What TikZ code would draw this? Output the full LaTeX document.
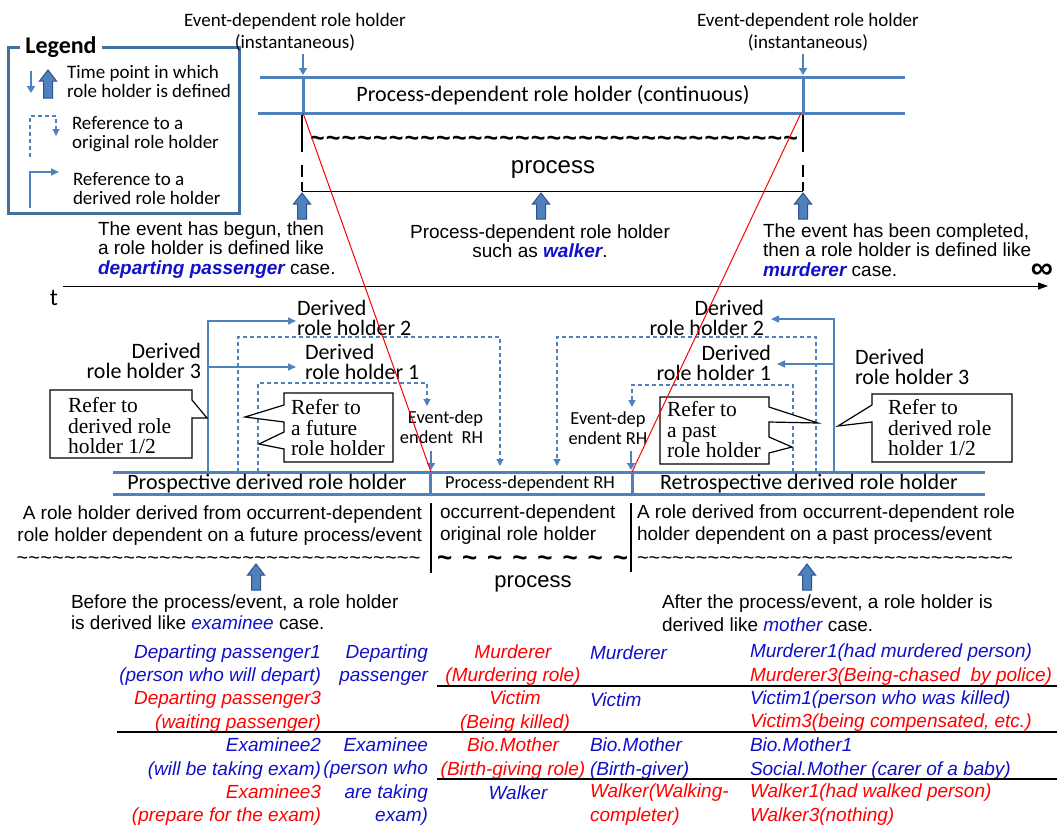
\documentclass[tikz,border=0pt]{standalone}
\usepackage{fontspec}
\setmainfont{Liberation Sans}
\newfontfamily\calf{Carlito}
\newfontfamily\arif{Liberation Sans}
\newfontfamily\timf{Liberation Serif}
\usetikzlibrary{arrows.meta}
\definecolor{lblue}{RGB}{79,129,189}
\definecolor{dblue}{RGB}{65,113,156}
\definecolor{aedge}{RGB}{47,82,143}
\definecolor{tblue}{RGB}{16,16,200}
\definecolor{tred}{RGB}{255,0,0}
\newcount\tildecnt
\newcommand\tilderow[1]{\tildecnt=#1\relax\textasciitilde\loop\ifnum\tildecnt>1 \hfil\textasciitilde\advance\tildecnt by -1 \repeat}
\newcommand\blockup[3]{\filldraw[barrow] (#1,#2) -- ({#1+8.5},{#2+11}) -- ({#1+4.5},{#2+11}) -- ({#1+4.5},#3) -- ({#1-4.5},#3) -- ({#1-4.5},{#2+11}) -- ({#1-8.5},{#2+11}) -- cycle;}
\newcommand\bemph[1]{{\bfseries\itshape\color{tblue}#1}}
\newcommand\iemph[1]{{\itshape\color{tblue}#1}}
\begin{document}
\begin{tikzpicture}[x=1pt,y=-1pt,
  lbar/.style={draw=lblue,line width=3},
  smarrow/.style={draw=lblue,line width=2.5,-{Triangle[length=7,width=8]}},
  dashref/.style={draw=lblue,line width=1.2,dash pattern=on 4pt off 3pt,-{Triangle[length=7,width=7]}},
  derref/.style={draw=lblue,line width=1.6,-{Triangle[length=8,width=7]}},
  barrow/.style={draw=aedge,fill=lblue,line width=1},
  callout/.style={draw=black,line width=1.2,fill=white},
  redline/.style={draw=red,line width=1},
  blk/.style={draw=black,line width=1},
  tx/.style={inner sep=0pt,outer sep=0pt},
  calleg/.style={font=\calf\fontsize{19}{19}\selectfont},
  caltop/.style={font=\calf\fontsize{19}{22}\selectfont},
  calder/.style={font=\calf\fontsize{22}{20}\selectfont},
  calbar/.style={font=\calf\fontsize{22}{22}\selectfont},
  calsm/.style={font=\calf\fontsize{18.4}{20}\selectfont},
  aritop/.style={font=\arif\fontsize{19}{19.5}\selectfont},
  arilow/.style={font=\arif\fontsize{19}{22}\selectfont},
  timc/.style={font=\timf\fontsize{21.5}{20.5}\selectfont},
  tab/.style={font=\arif\itshape\fontsize{19}{23.4}\selectfont},
  tildetop/.style={font=\arif\bfseries\fontsize{25}{25}\selectfont},
  tildemid/.style={font=\arif\bfseries\fontsize{26}{26}\selectfont},
  tildesm/.style={font=\arif\fontsize{20}{20}\selectfont},
]
\useasboundingbox (0,0) rectangle (1060,825);

% ---------------- Legend
\draw[draw=dblue,line width=3] (8,47) rectangle (239,213);
\node[tx,fill=white,inner xsep=5pt,font=\calf\bfseries\fontsize{24}{26}\selectfont] (legt) at (61,47) {Legend};
\coordinate (lg0) at (31,71); \coordinate (lg1) at (31,93);
\draw[smarrow] (lg0) -- (lg1);
\blockup{48}{70}{98}
\node[tx,calleg,anchor=west,align=left] (leg1) at (67,81) {Time point in which\\role holder is defined};
\coordinate (ld0) at (30,157); \coordinate (ld1) at (56,136);
\draw[dashref] (ld0) |- (56,116) -- (ld1);
\node[tx,calleg,anchor=west,align=left] (leg2) at (72,134) {Reference to a\\original role holder};
\coordinate (ls0) at (30,208); \coordinate (ls1) at (59,172);
\draw[derref] (ls0) |- (ls1);
\node[tx,calleg,anchor=west,align=left] (leg3) at (73,189) {Reference to a\\derived role holder};

% ---------------- Top: process-dependent role holder
\node[tx,caltop,align=center] (ed1) at (295,32) {Event-dependent role holder\\(instantaneous)};
\node[tx,caltop,align=center] (ed2) at (808,32) {Event-dependent role holder\\(instantaneous)};
\coordinate (e1a) at (303,54); \coordinate (e1b) at (303,75);
\coordinate (e2a) at (803,54); \coordinate (e2b) at (803,75);
\draw[smarrow] (e1a) -- (e1b);
\draw[smarrow] (e2a) -- (e2b);
\draw[lbar] (260,77) -- (905,77);
\draw[lbar] (258,113) -- (905,113);
\draw[lbar] (303,77) -- (303,113);
\draw[lbar] (803,77) -- (803,113);
\node[tx,font=\calf\fontsize{22}{24}\selectfont] (pdrh) at (553,95) {Process-dependent role holder (continuous)};
\draw[black,line width=1.3,dash pattern=on 37pt off 13pt on 12pt off 5pt on 12pt] (302,115) -- (302,191);
\draw[black,line width=1.3,dash pattern=on 37pt off 13pt on 12pt off 5pt on 12pt] (803,115) -- (803,191);
\node[tx,tildetop] (tl1) at (554,146) {\smash{\makebox[488pt][s]{\tilderow{31}}}};
\node[tx,font=\arif\fontsize{24}{24}\selectfont] (proc1) at (553,170) {process};
\draw[blk] (302,191) -- (803,191);
\blockup{302}{193}{219}
\blockup{541}{193}{219}
\blockup{803}{193}{219}
\node[tx,aritop,anchor=west,align=left] (tbeg) at (98,250) {The event has begun, then\\a role holder is defined like\\\bemph{departing passenger} case.};
\node[tx,aritop,align=center] (tmid) at (540,241) {Process-dependent role holder\\such as \bemph{walker}.};
\node[tx,aritop,anchor=west,align=left] (tend) at (763,250) {The event has been completed,\\then a role holder is defined like\\\bemph{murderer} case.};

% ---------------- time axis
\coordinate (t0) at (63,286); \coordinate (t1) at (1048,286);
\draw[line width=1,-{Triangle[length=10,width=7]}] (t0) -- (t1);
\node[tx,font=\calf\fontsize{24}{24}\selectfont] (tlab) at (54,298) {t};
\node[tx,font=\arif\bfseries\fontsize{31}{31}\selectfont] (inf) at (1042,271) {∞};

% ---------------- middle bar
\draw[lbar] (113,472) -- (985,472);
\draw[lbar] (113,494) -- (985,494);
\draw[lbar] (430,472) -- (430,494);
\draw[lbar] (632,472) -- (632,494);
\node[tx,calbar] (pros) at (267,484) {Prospective derived role holder};
\node[tx,calsm] (pdr) at (530,484) {Process-dependent RH};
\node[tx,calbar] (retro) at (809,484) {Retrospective derived role holder};
\coordinate (m1a) at (431,451); \coordinate (m1b) at (431,470);
\coordinate (m2a) at (631,451); \coordinate (m2b) at (631,470);
\draw[smarrow] (m1a) -- (m1b);
\draw[smarrow] (m2a) -- (m2b);
\node[tx,calsm,anchor=east,align=right] (edl) at (483,427) {Event-dep\\endent\ \ RH};
\node[tx,calsm,align=center] (edr) at (608,428) {Event-dep\\endent RH};

% left derived references
\coordinate (pl3) at (208,472); \coordinate (pl3a) at (296,321); \coordinate (pl3b) at (296,367);
\draw[derref] (pl3) |- (pl3a);
\draw[derref] (208,367) -- (pl3b);
\coordinate (pl2) at (238,472); \coordinate (pl2a) at (500,466);
\draw[dashref] (pl2) |- (500,337) -- (pl2a);
\coordinate (pl1) at (258,472); \coordinate (pl1a) at (427,406);
\draw[dashref] (pl1) |- (427,383) -- (pl1a);
\node[tx,calder,anchor=west,align=left] (d2l) at (297,318) {Derived\\role holder 2};
\node[tx,calder,anchor=west,align=left] (d1l) at (305,362) {Derived\\role holder 1};
\node[tx,calder,anchor=east,align=right] (d3l) at (201,361) {Derived\\role holder 3};

% right derived references
\coordinate (pr3) at (834,472); \coordinate (pr3a) at (771,319); \coordinate (pr3b) at (777,364);
\draw[derref] (pr3) |- (pr3a);
\draw[derref] (834,364) -- (pr3b);
\coordinate (pr2) at (816,472); \coordinate (pr2a) at (557,466);
\draw[dashref] (pr2) |- (557,337) -- (pr2a);
\coordinate (pr1) at (793,472); \coordinate (pr1a) at (632,407);
\draw[dashref] (pr1) |- (632,385) -- (pr1a);
\node[tx,calder,anchor=east,align=right] (d2r) at (764,318) {Derived\\role holder 2};
\node[tx,calder,anchor=east,align=right] (d1r) at (771,363) {Derived\\role holder 1};
\node[tx,calder,anchor=west,align=left] (d3r) at (855,367) {Derived\\role holder 3};

% callouts
\draw[callout] (50,390) -- (192,390) -- (192,400) -- (207,418) -- (192,418) -- (192,458) -- (50,458) -- cycle;
\node[tx,timc,anchor=west,align=left] (c1) at (68,426) {Refer to\\derived role\\holder 1/2};
\draw[callout] (284,393) -- (393,393) -- (393,462) -- (284,462) -- (284,449) -- (259,444) -- (284,432) -- (284,422) -- (245,417) -- (284,405) -- cycle;
\node[tx,timc,anchor=west,align=left] (c2) at (291,428) {Refer to\\a future\\role holder};
\draw[callout] (660,397) -- (769,397) -- (769,407) -- (818,423) -- (769,422) -- (769,437) -- (792,447) -- (769,453) -- (769,464) -- (660,464) -- cycle;
\node[tx,timc,anchor=west,align=left] (c3) at (667,430) {Refer to\\a past\\role holder};
\draw[callout] (872,394) -- (1012,394) -- (1012,462) -- (872,462) -- (872,422) -- (838,426) -- (872,405) -- cycle;
\node[tx,timc,anchor=west,align=left] (c4) at (888,428) {Refer to\\derived role\\holder 1/2};

% red lines
\coordinate (r1a) at (303,113); \coordinate (r1b) at (431,472);
\coordinate (r2a) at (801,113); \coordinate (r2b) at (632,472);
\draw[redline] (r1a) -- (r1b);
\draw[redline] (r2a) -- (r2b);

% ---------------- lower descriptions
\node[tx,arilow,anchor=east,align=right] (futt) at (422,526) {A role holder derived from occurrent-dependent\\role holder dependent on a future process/event};
\node[tx,arilow,anchor=west,align=left] (occ) at (440,525) {occurrent-dependent\\original role holder};
\node[tx,arilow,anchor=west,align=left] (past) at (637,525) {A role derived from occurrent-dependent role\\holder dependent on a past process/event};
\draw[black,line width=1.5] (431,503) -- (431,573);
\draw[black,line width=1.5] (631,503) -- (631,572);
\node[tx,tildesm] (tl2) at (218.5,564) {\smash{\makebox[404pt][s]{\tilderow{34}}}};
\node[tx,tildemid] (tl3) at (532.5,566) {\smash{\makebox[191pt][s]{\tilderow{8}}}};
\node[tx,tildesm] (tl4) at (825,564) {\smash{\makebox[376pt][s]{\tilderow{32}}}};
\node[tx,font=\arif\fontsize{22}{22}\selectfont] (proc2) at (533,584) {process};
\blockup{256}{564}{590}
\blockup{807}{564}{590}
\node[tx,font=\arif\fontsize{19}{21.5}\selectfont,anchor=west,align=left] (bef) at (71,612) {Before the process/event, a role holder\\is derived like \iemph{examinee} case.};
\node[tx,font=\arif\fontsize{19}{23}\selectfont,anchor=west,align=left] (aft) at (662,613) {After the process/event, a role holder is\\derived like \iemph{mother} case.};

% ---------------- table
\node[tx,tab,text=tblue,anchor=east,align=right] (k1) at (321,665) {Departing passenger1\\(person who will depart)};
\node[tx,tab,text=tred,anchor=east,align=right] (k2) at (321,711.5) {Departing passenger3\\(waiting passenger)};
\node[tx,tab,text=tblue,anchor=east,align=right] (k3) at (321,758.5) {Examinee2\\(will be taking exam)};
\node[tx,tab,text=tred,anchor=east,align=right] (k4) at (321,805) {Examinee3\\(prepare for the exam)};
\node[tx,tab,text=tblue,anchor=east,align=right] (o1) at (428,665) {Departing\\passenger};
\node[tx,tab,text=tblue,anchor=east,align=right] (o2) at (428,781.5) {Examinee\\(person who\\are taking\\exam)};
\node[tx,tab,text=tred,align=center] (p1) at (513,665) {Murderer\\(Murdering role)};
\node[tx,tab,text=tred,align=center] (p2) at (515,711.5) {Victim\\(Being killed)};
\node[tx,tab,text=tred,align=center] (p3) at (513,758.5) {Bio.Mother\\(Birth-giving role)};
\node[tx,tab,text=tblue,align=center] (p4) at (518,793) {Walker};
\node[tx,tab,text=tblue,anchor=west] (q1) at (590,653) {Murderer};
\node[tx,tab,text=tblue,anchor=west] (q2) at (590,700) {Victim};
\node[tx,tab,text=tblue,anchor=west,align=left] (q3) at (590,758.5) {Bio.Mother\\(Birth-giver)};
\node[tx,tab,text=tred,anchor=west,align=left] (q4) at (590,804.5) {Walker(Walking-\\completer)};
\node[tx,tab,text=tblue,anchor=west] (s1) at (750,653) {Murderer1(had murdered person)};
\node[tx,tab,text=tred,anchor=west] (s2) at (750,677) {Murderer3(Being-chased\ \ by police)};
\node[tx,tab,text=tblue,anchor=west] (s3) at (750,700) {Victim1(person who was killed)};
\node[tx,tab,text=tred,anchor=west] (s4) at (750,723) {Victim3(being compensated, etc.)};
\node[tx,tab,text=tblue,anchor=west,align=left] (s5) at (750,758.5) {Bio.Mother1\\Social.Mother (carer of a baby)};
\node[tx,tab,text=tred,anchor=west,align=left] (s6) at (750,804.5) {Walker1(had walked person)\\Walker3(nothing)};
\draw[black,line width=2] (437,686) -- (1057,686);
\draw[black,line width=1.3] (117,732) -- (1057,732);
\draw[black,line width=1.3] (437,779) -- (1057,779);
\end{tikzpicture}
\end{document}
